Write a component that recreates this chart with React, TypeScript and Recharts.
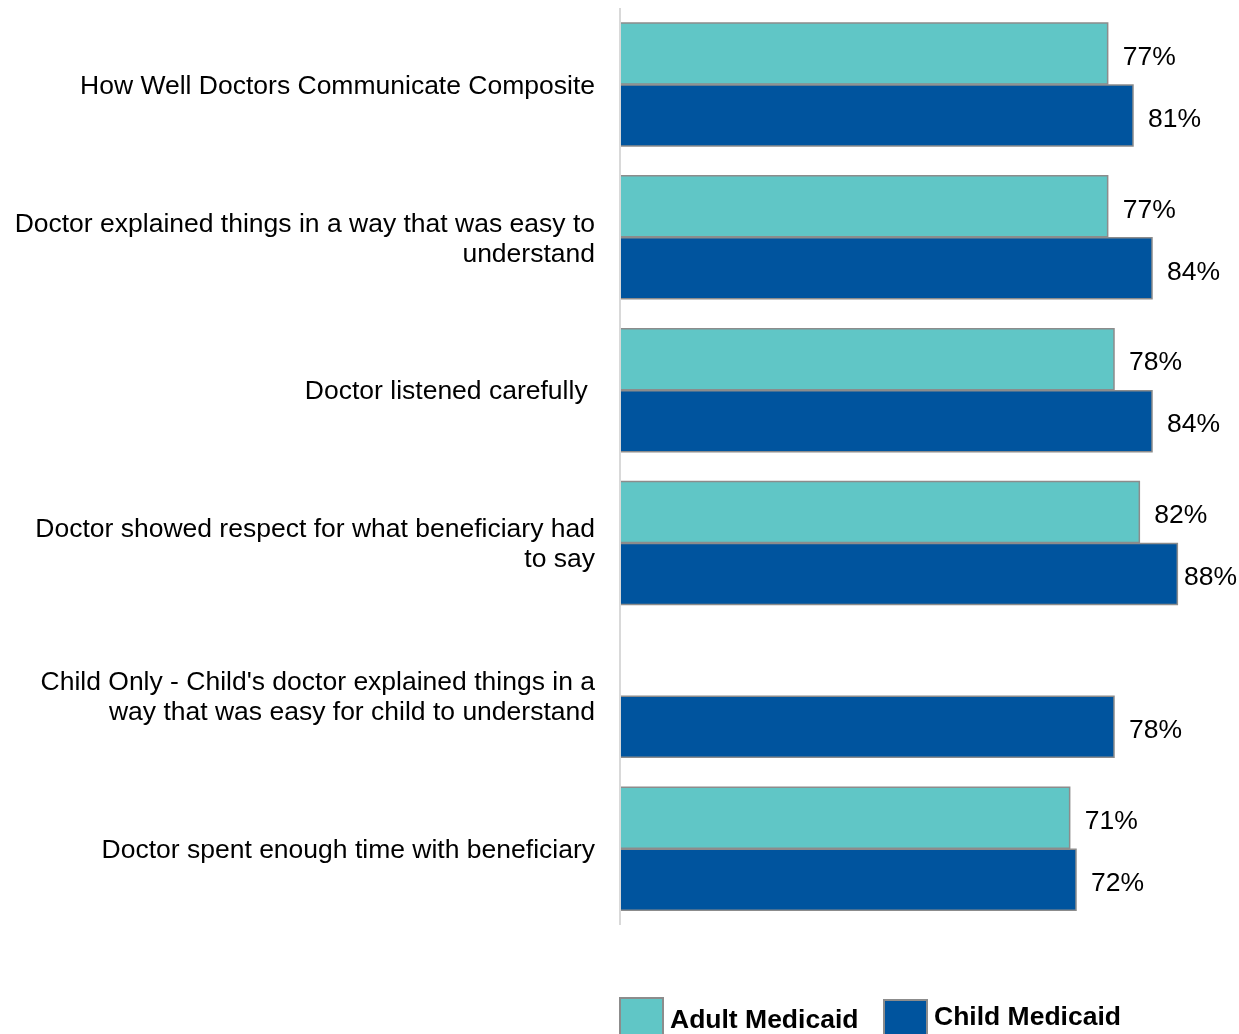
import { BarChart, Bar, XAxis, YAxis, LabelList, Legend } from "recharts";

/* survey items (\n marks a line break in the axis label) */
const categories = [
  "How Well Doctors Communicate Composite",
  "Doctor explained things in a way that was easy to\nunderstand",
  "Doctor listened carefully ",
  "Doctor showed respect for what beneficiary had\nto say",
  "Child Only - Child's doctor explained things in a\nway that was easy for child to understand",
  "Doctor spent enough time with beneficiary",
];

/* percent scores */
const adultValues = [77, 77, 78, 82, null, 71];
const childValues = [81, 84, 84, 88, 78, 72];

const seriesNames = ["Adult Medicaid", "Child Medicaid"];
const colors = ["#60C6C6", "#00549E"];

const FONT = "'Liberation Sans', Arial, sans-serif";
const CHART_W = 1231;
const CHART_H = 1026;

const data = categories.map((name, i) => ({
  name,
  adult: adultValues[i],
  child: childValues[i],
}));

const CategoryTick = (props: any) => {
  const { x, y, payload } = props;
  const lines = String(payload.value).split("\n");
  const lineHeight = 30;
  const startY = y - ((lines.length - 1) * lineHeight) / 2;
  return (
    <text
      x={x - 17}
      y={startY}
      textAnchor="end"
      fontSize={26.5}
      fill="#000"
      fontFamily={FONT}
      style={{ whiteSpace: "pre" }}
    >
      {lines.map((line, i) => (
        <tspan key={i} x={x - 17} y={startY + i * lineHeight} dy="0.35em">
          {line}
        </tspan>
      ))}
    </text>
  );
};

/* value label to the right of the bar, pulled in if it would run off the edge */
const ValueLabel = (props: any) => {
  const { x, y, width, height, value } = props;
  if (value == null) return null;
  const start = x + width + 15;
  const tooWide = start + 58 > CHART_W - 2;
  return (
    <text
      x={tooWide ? CHART_W - 2 : start}
      y={y + height / 2 + 2}
      dy="0.35em"
      textAnchor={tooWide ? "end" : "start"}
      fontSize={26.5}
      fill="#000"
      fontFamily={FONT}
    >
      {`${value}%`}
    </text>
  );
};

const LegendBox = () => (
  <div style={{ position: "relative", height: 40, fontFamily: FONT }}>
    {seriesNames.map((name, i) => (
      <div
        key={name}
        style={{
          position: "absolute",
          left: i === 0 ? 0 : 264,
          top: i === 0 ? 0 : 2,
          display: "flex",
          alignItems: "flex-start",
        }}
      >
        <div
          style={{
            width: 45,
            height: 45,
            background: colors[i],
            border: "2px solid #8c8c8c",
            boxSizing: "border-box",
          }}
        />
        <span
          style={{
            marginLeft: 6,
            marginTop: i === 0 ? 7 : 2,
            fontSize: 26.5,
            fontWeight: "bold",
            color: "#000",
            lineHeight: "30px",
          }}
        >
          {name}
        </span>
      </div>
    ))}
  </div>
);

const App = () => {
  return (
    <div
      style={{
        position: "fixed",
        top: 8,
        left: 8,
        width: CHART_W,
        height: CHART_H,
        overflow: "hidden",
      }}
    >
      <BarChart
        width={CHART_W}
        height={CHART_H}
        data={data}
        layout="vertical"
        margin={{ top: 0, right: 11, bottom: 109, left: 0 }}
        barCategoryGap={15}
        barGap={1}
      >
        <XAxis type="number" domain={[0, 96]} hide />
        <YAxis
          type="category"
          dataKey="name"
          width={612}
          axisLine={{ stroke: "#d9d9d9", strokeWidth: 2 }}
          tickLine={false}
          tick={<CategoryTick />}
          interval={0}
        />
        <Legend
          layout="vertical"
          align="center"
          verticalAlign="middle"
          wrapperStyle={{ left: 611, top: 989, width: 600 }}
          content={<LegendBox />}
        />
        <Bar
          dataKey="adult"
          name={seriesNames[0]}
          fill={colors[0]}
          stroke="#8c8c8c"
          strokeWidth={1.5}
          isAnimationActive={false}
        >
          <LabelList dataKey="adult" content={<ValueLabel />} />
        </Bar>
        <Bar
          dataKey="child"
          name={seriesNames[1]}
          fill={colors[1]}
          stroke="#8c8c8c"
          strokeWidth={1.5}
          isAnimationActive={false}
        >
          <LabelList dataKey="child" content={<ValueLabel />} />
        </Bar>
      </BarChart>
    </div>
  );
};

export default App;
